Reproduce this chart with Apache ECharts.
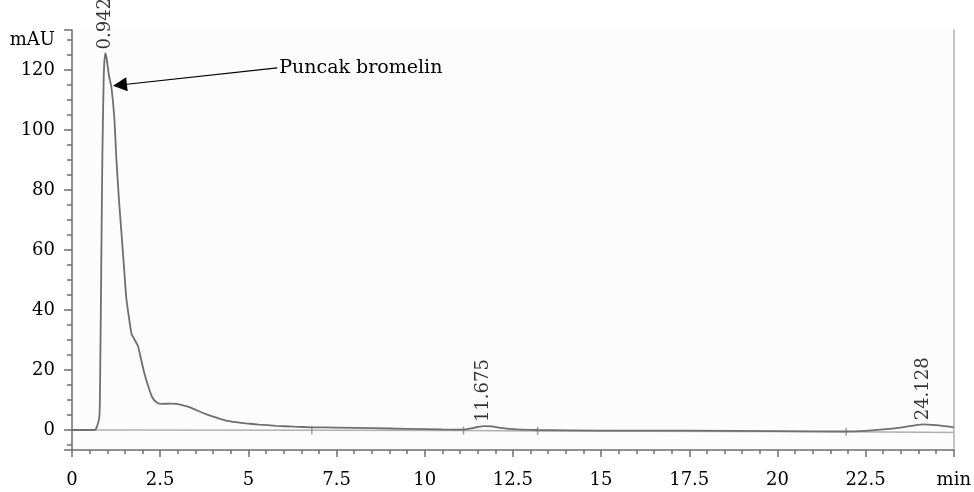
<!DOCTYPE html>
<html>
<head>
<meta charset="utf-8">
<script src="https://cdn.jsdelivr.net/npm/echarts@6/dist/echarts.min.js"></script>
<style>
html,body{margin:0;padding:0;background:#fff;}
#c{width:974px;height:492px;}
</style>
</head>
<body>
<div id="c"></div>
<script>
// retention time (min) and absorbance (mAU) of the chromatogram trace
const timeMin = [0, 0.6, 0.65, 0.72, 0.78, 0.8, 0.83, 0.86, 0.9, 0.942, 0.98, 1.05, 1.12, 1.2, 1.26, 1.33, 1.4, 1.47, 1.54, 1.62, 1.69, 1.78, 1.87, 1.95, 2.05, 2.15, 2.27, 2.4, 2.55, 2.8, 2.96, 3.15, 3.33, 3.55, 3.8, 4.1, 4.37, 4.65, 4.93, 5.3, 5.78, 6.3, 6.8, 7.5, 8.5, 9.5, 10.5, 11.1, 11.3, 11.5, 11.675, 11.9, 12.2, 12.6, 13.2, 15, 17.5, 20, 21.9, 22.5, 23, 23.5, 24.128, 24.5, 25];
const signalMAU = [0, 0, 0, 1.5, 5, 20, 55, 90, 118, 125.5, 124, 118, 114, 104, 90, 77, 66, 55, 44, 37, 32, 30, 28, 24, 19, 15, 11, 9.2, 8.7, 8.8, 8.7, 8.2, 7.6, 6.5, 5.3, 4.1, 3.1, 2.6, 2.2, 1.8, 1.4, 1.1, 0.9, 0.8, 0.6, 0.4, 0.2, 0.1, 0.5, 1.0, 1.3, 1.2, 0.6, 0.2, 0, -0.2, -0.2, -0.4, -0.5, -0.3, 0.2, 0.8, 1.9, 1.6, 0.9];
// integration baseline events
const baselineTime = [0.65, 6.8, 11.1, 13.2, 21.95, 25];
const baselineMAU = [0, -0.1, -0.2, -0.3, -0.6, -0.8];
// labelled peaks
const peakTimes = [0.942, 11.675, 24.128];
const peakHeights = [125.5, 1.3, 1.9];
const peakLabels = ['0.942', '11.675', '24.128'];
// annotation (line from label to arrow head)
const annotationText = 'Puncak bromelin';
const annotationFrom = [5.82, 120.7];
const annotationTo = [1.36, 115.0];

const FONT = 'DejaVu Serif';
const AXIS_COLOR = '#6e6e6e';
const LINE_COLOR = '#6f6f6f';
const TEXT_COLOR = '#000';

const signal = timeMin.map((t, i) => [t, signalMAU[i]]);
const baseline = baselineTime.map((t, i) => [t, baselineMAU[i]]);
const peaks = peakTimes.map((t, i) => ({value: [t, peakHeights[i]], name: peakLabels[i]}));

const chart = echarts.init(document.getElementById('c'), null, {renderer: 'canvas'});
chart.setOption({
  animation: false,
  backgroundColor: '#ffffff',
  textStyle: {fontFamily: FONT},
  grid: {left: 72, right: 17, top: 30, bottom: 42, show: true, backgroundColor: '#fcfcfc', borderWidth: 0},
  xAxis: {
    type: 'value', min: 0, max: 25, interval: 2.5,
    axisLine: {show: true, onZero: false, lineStyle: {color: AXIS_COLOR, width: 1.5}},
    axisTick: {show: true, length: 7, lineStyle: {color: AXIS_COLOR, width: 1.5}},
    minorTick: {show: true, splitNumber: 5, length: 4, lineStyle: {color: AXIS_COLOR, width: 1.5}},
    splitLine: {show: false},
    axisLabel: {color: TEXT_COLOR, fontFamily: FONT, fontSize: 18, margin: 21,
      formatter: v => (Math.abs(v - 25) < 1e-6 ? 'min' : String(v))}
  },
  yAxis: [{
    type: 'value', min: -6.67, max: 133.33, splitNumber: 7,
    name: 'mAU', nameLocation: 'end', nameGap: -10,
    nameTextStyle: {color: TEXT_COLOR, fontFamily: FONT, fontSize: 18, align: 'right', verticalAlign: 'middle', padding: [0, 17, 0, 0]},
    axisLine: {show: true, lineStyle: {color: AXIS_COLOR, width: 1.5}},
    axisTick: {show: true, length: 8, lineStyle: {color: AXIS_COLOR, width: 1.5}},
    minorTick: {show: true, splitNumber: 4, length: 5, lineStyle: {color: AXIS_COLOR, width: 1.5}},
    splitLine: {show: false},
    axisLabel: {color: TEXT_COLOR, fontFamily: FONT, fontSize: 18, margin: 17, showMinLabel: false, showMaxLabel: false}
  }, {
    type: 'value', min: -6.67, max: 133.33, position: 'right',
    axisLine: {show: true, lineStyle: {color: '#c4c4c4', width: 2}},
    axisTick: {show: false}, axisLabel: {show: false}, splitLine: {show: false}
  }],
  series: [{
    type: 'line', data: baseline, showSymbol: false, silent: true,
    lineStyle: {color: '#b0b0b0', width: 1.5}, z: 1
  }, {
    type: 'scatter', data: baseline.slice(1, -1), symbol: 'rect', symbolSize: [1.5, 8],
    itemStyle: {color: '#8a8a8a'}, silent: true, z: 1
  }, {
    type: 'line', data: signal, showSymbol: false, smooth: 0.2,
    lineStyle: {color: LINE_COLOR, width: 1.8}, z: 3,
    markLine: {
      silent: true, symbol: ['none', 'triangle'], symbolSize: 14,
      lineStyle: {color: '#000', width: 1.2, type: 'solid'},
      label: {show: true, position: 'start', formatter: annotationText, color: TEXT_COLOR, fontFamily: FONT, fontSize: 19, distance: 2},
      data: [[{coord: annotationFrom}, {coord: annotationTo}]]
    }
  }, {
    type: 'scatter', data: peaks, symbolSize: 0, silent: true, z: 4,
    label: {show: true, position: 'top', rotate: 90, distance: 4, align: 'left', verticalAlign: 'middle',
      formatter: p => p.name, color: TEXT_COLOR, fontFamily: FONT, fontSize: 18}
  }]
});
</script>
</body>
</html>
